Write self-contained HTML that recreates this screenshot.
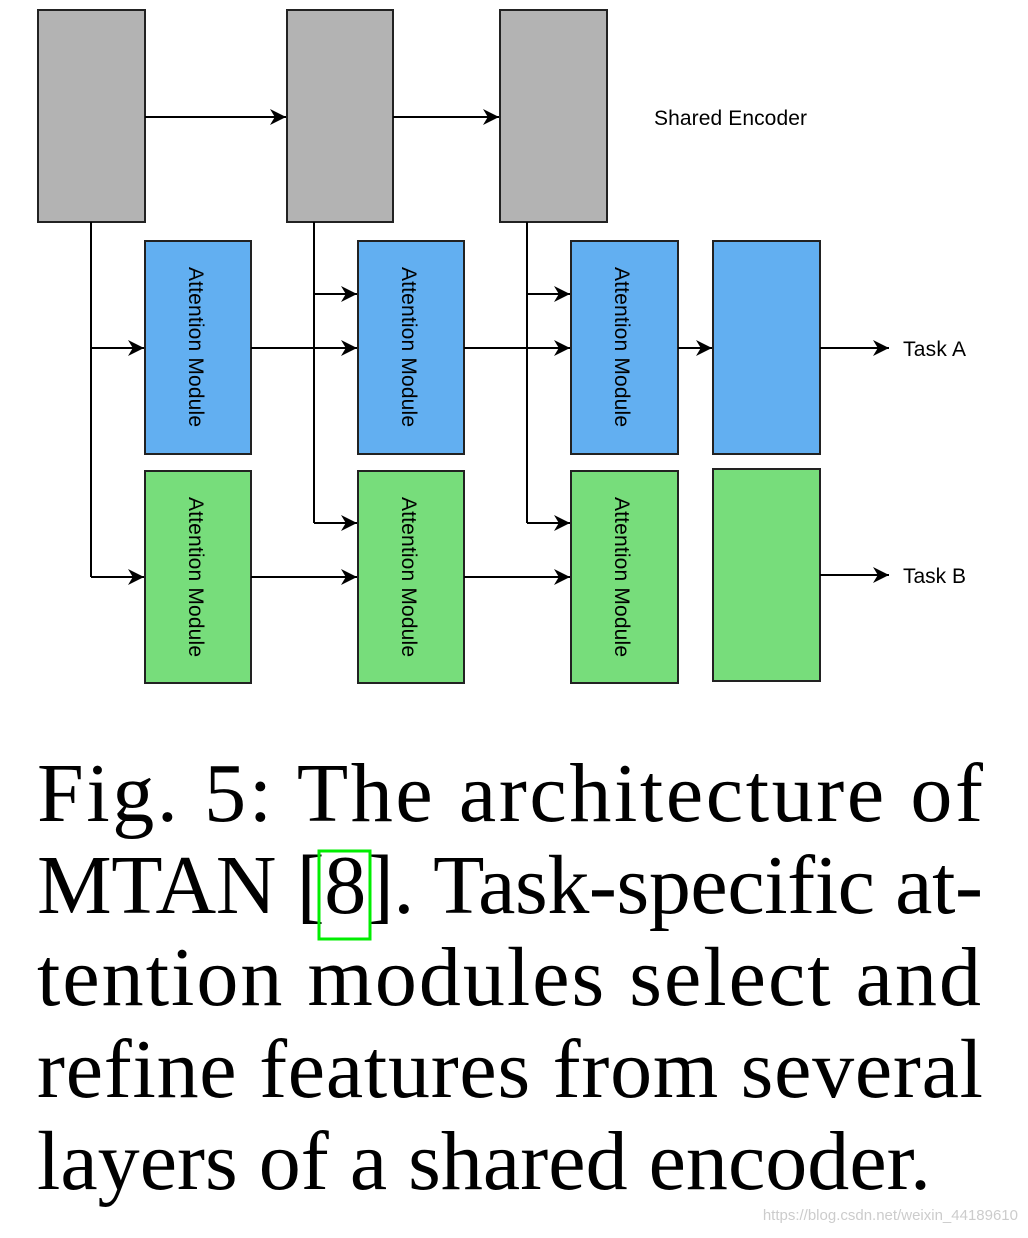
<!DOCTYPE html>
<html><head><meta charset="utf-8"><style>html,body{margin:0;padding:0;background:#fff}</style></head>
<body>
<svg width="1028" height="1233" viewBox="0 0 1028 1233" xmlns="http://www.w3.org/2000/svg">
<defs><marker id="a" viewBox="0 0 10 10" refX="10" refY="5" markerWidth="16" markerHeight="16" markerUnits="userSpaceOnUse" orient="auto"><path d="M0,0 L10,5 L0,10 L3,5 z" fill="#000"/></marker></defs>
<g stroke="#222" stroke-width="2">
<rect x="38" y="10" width="107" height="212" fill="#b3b3b3"/>
<rect x="287" y="10" width="106" height="212" fill="#b3b3b3"/>
<rect x="500" y="10" width="107" height="212" fill="#b3b3b3"/>
<rect x="145" y="241" width="106" height="213" fill="#62aff1"/>
<rect x="358" y="241" width="106" height="213" fill="#62aff1"/>
<rect x="571" y="241" width="107" height="213" fill="#62aff1"/>
<rect x="713" y="241" width="107" height="213" fill="#62aff1"/>
<rect x="145" y="471" width="106" height="212" fill="#77dd7b"/>
<rect x="358" y="471" width="106" height="212" fill="#77dd7b"/>
<rect x="571" y="471" width="107" height="212" fill="#77dd7b"/>
<rect x="713" y="469" width="107" height="212" fill="#77dd7b"/>
</g>
<g stroke="#000" stroke-width="2" fill="none">
<path d="M145,117H286" marker-end="url(#a)"/>
<path d="M393,117H499" marker-end="url(#a)"/>
<path d="M91,222V577"/>
<path d="M91,348H144" marker-end="url(#a)"/>
<path d="M91,577H144" marker-end="url(#a)"/>
<path d="M314,222V523"/>
<path d="M314,294H357" marker-end="url(#a)"/>
<path d="M314,523H357" marker-end="url(#a)"/>
<path d="M527,222V523"/>
<path d="M527,294H570" marker-end="url(#a)"/>
<path d="M527,523H570" marker-end="url(#a)"/>
<path d="M251,348H357" marker-end="url(#a)"/>
<path d="M464,348H570" marker-end="url(#a)"/>
<path d="M678,348H712" marker-end="url(#a)"/>
<path d="M820,348H889" marker-end="url(#a)"/>
<path d="M251,577H357" marker-end="url(#a)"/>
<path d="M464,577H570" marker-end="url(#a)"/>
<path d="M820,575H889" marker-end="url(#a)"/>
</g>
<g font-family="Liberation Sans, sans-serif" font-size="21" fill="#000">
<text x="654" y="125" textLength="153">Shared Encoder</text>
<text x="903" y="356" textLength="63">Task A</text>
<text x="903" y="583" textLength="63">Task B</text>
<text transform="translate(189,267) rotate(90)" textLength="160">Attention Module</text>
<text transform="translate(402,267) rotate(90)" textLength="160">Attention Module</text>
<text transform="translate(615,267) rotate(90)" textLength="160">Attention Module</text>
<text transform="translate(189,497) rotate(90)" textLength="160">Attention Module</text>
<text transform="translate(402,497) rotate(90)" textLength="160">Attention Module</text>
<text transform="translate(615,497) rotate(90)" textLength="160">Attention Module</text>
</g>
<g font-family="Liberation Serif, serif" font-size="84" fill="#000">
<text x="37" y="821" textLength="946" lengthAdjust="spacing">Fig. 5: The architecture of</text>
<text x="37" y="913" textLength="946" lengthAdjust="spacing">MTAN [8]. Task-specific at-</text>
<text x="37" y="1005" textLength="944" lengthAdjust="spacing">tention modules select and</text>
<text x="37" y="1097" textLength="946" lengthAdjust="spacing">refine features from several</text>
<text x="37" y="1189" textLength="894" lengthAdjust="spacing">layers of a shared encoder.</text>
</g>
<rect x="319" y="851" width="51" height="88" fill="none" stroke="#00ee00" stroke-width="3"/>
<text x="1018" y="1220" text-anchor="end" font-family="Liberation Sans, sans-serif" font-size="15" fill="#ccc">https://blog.csdn.net/weixin_44189610</text>
</svg>
</body></html>
